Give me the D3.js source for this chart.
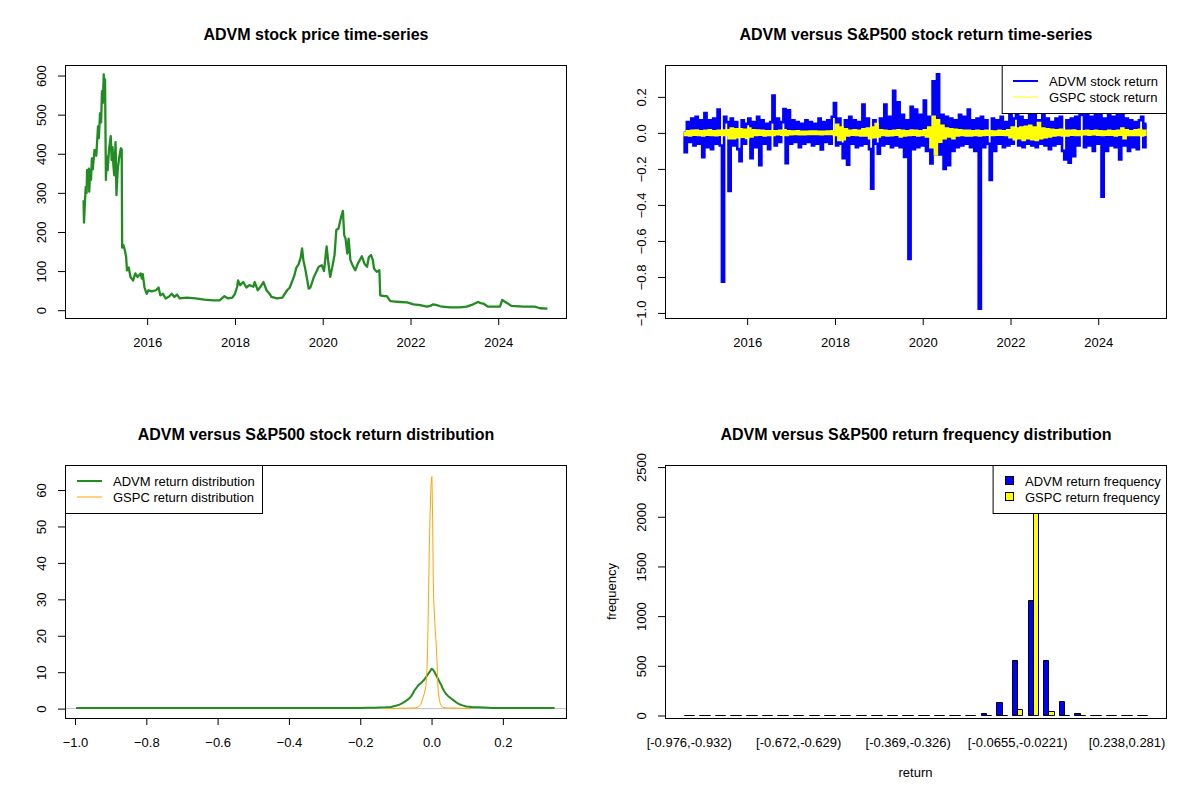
<!DOCTYPE html>
<html>
<head>
<meta charset="utf-8">
<script src="https://cdn.jsdelivr.net/npm/d3@7"></script>
<style>
body { margin: 0; background: #fff; }
svg text { font-family: "Liberation Sans", Arial, sans-serif; fill: #000; }
</style>
</head>
<body>
<svg id="chart" width="1200" height="800"></svg>
<script>
// ADVM closing price (decimal year, price)
var priceYears = [2014.55, 2014.56, 2014.58, 2014.60, 2014.62, 2014.63, 2014.65, 2014.67, 2014.68, 2014.70,
    2014.72, 2014.74, 2014.76, 2014.80, 2014.84, 2014.88, 2014.90, 2014.925, 2014.95, 2014.97,
    2014.99, 2015.01, 2015.03, 2015.04, 2015.06, 2015.08, 2015.10, 2015.13, 2015.17, 2015.19,
    2015.21, 2015.23, 2015.25, 2015.28, 2015.30, 2015.33, 2015.36, 2015.40, 2015.42, 2015.43,
    2015.46, 2015.49, 2015.52, 2015.54, 2015.58, 2015.62, 2015.68, 2015.73, 2015.78, 2015.85,
    2015.88, 2015.90, 2015.94, 2015.99, 2016.03, 2016.10, 2016.20, 2016.26, 2016.30, 2016.36,
    2016.42, 2016.50, 2016.56, 2016.62, 2016.68, 2016.74, 2016.90, 2017.10, 2017.30, 2017.50,
    2017.65, 2017.72, 2017.76, 2017.84, 2017.94, 2018.00, 2018.05, 2018.07, 2018.12, 2018.19,
    2018.26, 2018.33, 2018.42, 2018.45, 2018.52, 2018.57, 2018.65, 2018.72, 2018.80, 2018.83,
    2018.96, 2019.08, 2019.19, 2019.25, 2019.35, 2019.40, 2019.45, 2019.50, 2019.53, 2019.56,
    2019.60, 2019.65, 2019.68, 2019.72, 2019.80, 2019.91, 2019.98, 2020.03, 2020.09, 2020.13,
    2020.17, 2020.22, 2020.27, 2020.31, 2020.36, 2020.42, 2020.46, 2020.49, 2020.52, 2020.56,
    2020.59, 2020.63, 2020.68, 2020.74, 2020.80, 2020.89, 2020.95, 2021.01, 2021.05, 2021.10,
    2021.14, 2021.17, 2021.23, 2021.29, 2021.31, 2021.40, 2021.46, 2021.54, 2021.65, 2021.77,
    2021.92, 2022.07, 2022.22, 2022.37, 2022.45, 2022.52, 2022.60, 2022.68, 2022.90, 2023.13,
    2023.28, 2023.43, 2023.54, 2023.60, 2023.66, 2023.77, 2024.04, 2024.09, 2024.19, 2024.30,
    2024.57, 2024.83, 2024.95, 2025.12];
var priceValues = [281, 224, 274, 315, 300, 358, 320, 362, 303, 358,
    333, 388, 360, 410, 395, 470, 440, 503, 480, 560,
    530, 603, 560, 590, 333, 393, 358, 410, 445, 384,
    417, 370, 345, 430, 294, 360, 388, 414, 411, 160,
    166, 154, 137, 102, 109, 85, 76, 94, 85, 94,
    81, 92, 58, 42, 51, 48, 51, 58, 38, 42,
    30, 35, 42, 34, 40, 30, 32, 30, 27, 25,
    25, 32, 36, 30, 32, 42, 60, 76, 64, 72,
    58, 64, 60, 72, 51, 58, 72, 51, 40, 34,
    30, 32, 51, 58, 87, 109, 117, 135, 158, 128,
    107, 76, 55, 58, 85, 111, 115, 100, 163, 120,
    85, 111, 141, 205, 209, 239, 254, 192, 183, 145,
    183, 128, 115, 102, 119, 138, 119, 111, 136, 141,
    128, 106, 98, 102, 38, 36, 36, 23, 22, 21,
    20, 15, 13, 9, 11, 15, 13, 10, 7, 7,
    9, 15, 21, 18, 17, 9, 9, 26, 19, 11,
    9, 9, 5, 4];

// daily returns, sampled every 0.05 year from mid 2014
var returnStart = 2014.55;
var returnStep = 0.05;
var advmReturns = [0.0, -0.107, 0.06, -0.05, 0.08, -0.07, 0.09, -0.06, 0.07, -0.135,
    0.11, -0.08, 0.07, -0.09, 0.08, -0.06, 0.13, -0.07, -0.826, 0.09,
    0.06, -0.323, 0.08, -0.07, 0.06, -0.09, -0.157, 0.07, -0.06, 0.05,
    0.08, -0.14, 0.06, -0.08, 0.09, -0.18, 0.07, -0.06, 0.05, -0.09,
    0.06, 0.207, -0.07, 0.08, -0.05, 0.06, 0.133, -0.168, 0.126, -0.06,
    0.07, -0.05, 0.06, -0.08, 0.05, -0.06, 0.07, -0.05, 0.06, -0.07,
    0.05, -0.06, 0.08, -0.092, 0.06, -0.05, 0.07, -0.06, 0.09, 0.166,
    -0.07, 0.08, -0.06, -0.14, 0.07, -0.177, 0.09, -0.06, 0.07, -0.08,
    0.06, -0.07, 0.157, -0.06, 0.08, -0.09, -0.31, 0.07, -0.06, -0.115,
    0.08, -0.07, 0.157, -0.06, 0.09, -0.08, 0.234, -0.07, 0.17, -0.08,
    0.1, -0.133, 0.07, -0.70, 0.145, -0.09, 0.129, -0.08, 0.1, -0.07,
    0.18, -0.1, 0.09, -0.17, 0.286, -0.12, 0.325, -0.12, 0.1, -0.2,
    0.09, -0.18, 0.08, -0.1, 0.07, -0.08, 0.1, -0.07, 0.09, -0.06,
    0.129, -0.08, 0.07, -0.1, 0.08, -0.976, 0.09, -0.08, 0.07, -0.06,
    -0.262, 0.08, -0.1, 0.07, -0.06, 0.09, -0.08, 0.06, -0.07, 0.1,
    -0.06, 0.08, 0.133, -0.07, 0.09, -0.08, 0.07, -0.06, 0.1, -0.07,
    0.14, -0.08, 0.07, -0.06, 0.12, -0.07, 0.08, -0.09, 0.06, -0.07,
    0.08, -0.06, 0.09, -0.1, -0.147, 0.07, -0.166, 0.08, -0.13, 0.09,
    -0.07, 0.1, 0.129, -0.08, 0.11, -0.07, 0.09, -0.1, 0.12, -0.06,
    0.11, -0.354, 0.08, -0.1, 0.1, -0.07, 0.09, -0.08, 0.1, -0.147,
    0.12, -0.07, 0.08, -0.1, 0.07, -0.08, 0.06, -0.09, 0.07, 0.09,
    -0.08, 0.05];
var gspcReturns = [0.0, -0.012, 0.01, -0.015, 0.012, -0.01, 0.014, -0.012, 0.01, -0.015,
    0.012, -0.01, 0.015, -0.012, 0.01, -0.014, 0.012, -0.01, 0.013, -0.012,
    0.015, -0.03, 0.025, -0.03, 0.02, -0.025, 0.02, -0.022, 0.018, -0.028,
    0.025, -0.02, 0.015, -0.012, 0.014, -0.01, 0.012, -0.015, 0.01, -0.012,
    0.01, -0.012, 0.01, -0.008, 0.012, -0.01, 0.015, -0.012, 0.01, -0.008,
    0.008, -0.006, 0.01, -0.008, 0.006, -0.008, 0.007, -0.006, 0.008, -0.007,
    0.008, -0.006, 0.007, -0.008, 0.006, -0.007, 0.008, -0.006, 0.01, -0.012,
    0.045, -0.04, 0.03, -0.035, 0.02, -0.015, 0.012, -0.01, 0.015, -0.012,
    0.012, -0.015, 0.02, -0.015, 0.025, -0.03, 0.03, -0.025, 0.05, -0.02,
    0.015, -0.012, 0.012, -0.015, 0.01, -0.014, 0.012, -0.01, 0.015, -0.02,
    0.012, -0.015, 0.01, -0.012, 0.014, -0.01, 0.012, -0.015, 0.01, -0.012,
    0.015, -0.02, 0.03, -0.08, 0.09, -0.12, 0.07, -0.05, 0.04, -0.03,
    0.025, -0.02, 0.02, -0.03, 0.018, -0.015, 0.015, -0.012, 0.012, -0.015,
    0.012, -0.015, 0.01, -0.012, 0.012, -0.015, 0.01, -0.012, 0.012, -0.01,
    0.01, -0.012, 0.008, -0.01, 0.012, -0.01, 0.01, -0.012, 0.015, -0.025,
    0.03, -0.035, 0.025, -0.03, 0.03, -0.04, 0.035, -0.03, 0.04, -0.035,
    0.03, -0.04, 0.055, -0.03, 0.025, -0.025, 0.02, -0.02, 0.018, -0.015,
    0.015, -0.012, 0.018, -0.015, 0.012, -0.015, 0.012, -0.01, 0.014, -0.012,
    0.01, -0.012, 0.01, -0.008, 0.012, -0.01, 0.01, -0.008, 0.012, -0.01,
    0.01, -0.012, 0.008, -0.01, 0.012, -0.01, 0.01, -0.015, 0.012, -0.01,
    0.025, -0.03, 0.015, -0.012, 0.01, -0.012, 0.015, -0.012, 0.018, -0.015,
    0.012, -0.01];

// kernel density estimates [return, density]
var advmDensity = [[-0.997, 0.15], [-0.6, 0.15], [-0.3, 0.15], [-0.2, 0.18], [-0.18, 0.25], [-0.16, 0.25],
    [-0.147, 0.3], [-0.13, 0.35], [-0.114, 0.45], [-0.1, 0.8], [-0.09, 1.1], [-0.082, 1.5], [-0.075, 1.9],
    [-0.068, 2.4], [-0.063, 2.8], [-0.058, 3.3], [-0.053, 4.1], [-0.048, 5.0], [-0.043, 5.6], [-0.039, 6.2],
    [-0.034, 6.7], [-0.029, 7.1], [-0.024, 7.6], [-0.02, 8.0], [-0.015, 8.7], [-0.011, 9.3], [-0.006, 10.0],
    [-0.002, 10.6], [0.0, 10.9], [0.003, 10.8], [0.0075, 10.2], [0.012, 9.3], [0.017, 8.4], [0.022, 7.4],
    [0.027, 6.5], [0.031, 5.6], [0.036, 4.7], [0.041, 4.0], [0.046, 3.5], [0.053, 2.9], [0.06, 2.4],
    [0.068, 1.8], [0.078, 1.2], [0.087, 0.9], [0.097, 0.6], [0.106, 0.5], [0.115, 0.4], [0.13, 0.35],
    [0.148, 0.3], [0.17, 0.2], [0.2, 0.15], [0.345, 0.15]];
var gspcDensity = [[-0.13, 0.0], [-0.12, 0.02], [-0.1, 0.05], [-0.09, 0.1], [-0.08, 0.15], [-0.07, 0.1],
    [-0.06, 0.15], [-0.05, 0.2], [-0.045, 0.25], [-0.04, 0.35], [-0.035, 0.6], [-0.03, 1.2], [-0.026, 2.4],
    [-0.02, 4.2], [-0.016, 6.1], [-0.013, 10.5], [-0.011, 16.7], [-0.0093, 26], [-0.0065, 43], [-0.004, 54],
    [-0.002, 60], [0.0, 63.4], [0.001, 63.7], [0.002, 58], [0.003, 52], [0.0047, 36.5], [0.006, 30],
    [0.0075, 26.8], [0.01, 22], [0.0122, 19], [0.015, 13.5], [0.017, 8], [0.019, 4.3], [0.022, 2.5],
    [0.024, 1.5], [0.028, 0.7], [0.031, 0.4], [0.04, 0.2], [0.05, 0.15], [0.06, 0.2], [0.07, 0.15],
    [0.08, 0.12], [0.09, 0.08], [0.1, 0.02], [0.11, 0.0]];
var densityYMax = 64.3;

// return frequencies in 30 equal bins
var advmCounts = [1, 0, 0, 1, 0, 0, 1, 0, 0, 0, 0, 0, 0, 0, 1, 2, 1, 4, 8, 30,
    140, 560, 1160, 560, 150, 30, 10, 8, 1, 1];
var gspcCounts = [0, 0, 0, 0, 0, 0, 0, 0, 0, 0, 0, 0, 0, 0, 0, 0, 0, 0, 1, 3,
    4, 70, 2521, 50, 8, 0, 0, 0, 0, 0];
var binLabelIndex = [0, 7, 14, 21, 28];
var binLabels = ['[-0.976,-0.932)', '[-0.672,-0.629)', '[-0.369,-0.326)', '[-0.0655,-0.0221)', '[0.238,0.281)'];

// tick labels
var yearTicks = [2016, 2018, 2020, 2022, 2024];
var priceTicks = [0, 100, 200, 300, 400, 500, 600];
var returnTicks = [-1.0, -0.8, -0.6, -0.4, -0.2, 0.0, 0.2];
var densityTicks = [0, 10, 20, 30, 40, 50, 60];
var freqTicks = [0, 500, 1000, 1500, 2000, 2500];

var box = {l: 65, r: 566, t: 65, b: 318};
var svg = d3.select('#chart');

// R pads the data range by 4% on each side
function rRange(ext) {
    var d = ext[1] - ext[0];
    return [ext[0] - 0.04 * d, ext[1] + 0.04 * d];
}
function yearToDate(y) {
    var yr = Math.floor(y);
    var a = Date.UTC(yr, 0, 1), b = Date.UTC(yr + 1, 0, 1);
    return new Date(a + (y - yr) * (b - a));
}
function panel(ox, oy) {
    return svg.append('g').attr('transform', 'translate(' + [ox, oy] + ')');
}
function drawBox(g) {
    g.append('rect')
        .attr('x', box.l + 0.5).attr('y', box.t + 0.5)
        .attr('width', box.r - box.l).attr('height', box.b - box.t)
        .attr('fill', 'none').attr('stroke', '#000');
}
function drawTitle(g, t) {
    g.append('text')
        .attr('x', (box.l + box.r) / 2 + 0.5).attr('y', 40)
        .attr('text-anchor', 'middle')
        .style('font-size', '16px').style('font-weight', 'bold')
        .text(t);
}
function bottomAxis(g, scale, values, fmt, size) {
    var ax = g.append('g')
        .attr('transform', 'translate(0,' + box.b + ')')
        .call(d3.axisBottom(scale).tickValues(values).tickFormat(fmt).tickSize(size).tickSizeOuter(0));
    ax.attr('font-family', null).attr('font-size', null);
    ax.select('.domain').remove();
    ax.selectAll('line').attr('stroke', '#000');
    ax.selectAll('text').attr('y', 29).attr('dy', null).style('font-size', '13px');
}
function leftAxis(g, scale, values, fmt) {
    var ax = g.append('g')
        .attr('transform', 'translate(' + box.l + ',0)')
        .call(d3.axisLeft(scale).tickValues(values).tickFormat(fmt).tickSize(7).tickSizeOuter(0));
    ax.attr('font-family', null).attr('font-size', null);
    ax.select('.domain').remove();
    ax.selectAll('line').attr('stroke', '#000');
    ax.selectAll('text')
        .attr('transform', 'rotate(-90)')
        .attr('x', 0).attr('y', -19).attr('dy', null)
        .attr('text-anchor', 'middle')
        .style('font-size', '13px');
}
function legendBox(g, x0, x1) {
    g.append('rect')
        .attr('x', x0 + 0.5).attr('y', box.t + 0.5)
        .attr('width', x1 - x0).attr('height', 48)
        .attr('fill', '#fff').attr('stroke', '#000');
}
function legendText(g, x, y, t) {
    g.append('text').attr('x', x).attr('y', y + 4.6).style('font-size', '13px').text(t);
}
var fmt1 = d3.format('.1f');

// ---------- top left: price ----------
var p1 = panel(0, 0);
var priceData = priceYears.map(function(y, i) { return {date: yearToDate(y), value: priceValues[i]}; });
var xTime = d3.scaleTime()
    .domain(rRange(d3.extent(priceData, function(d) { return +d.date; })))
    .range([box.l, box.r]);
var yPrice = d3.scaleLinear()
    .domain(rRange(d3.extent(priceValues)))
    .range([box.b, box.t]);
p1.append('path')
    .datum(priceData)
    .attr('fill', 'none').attr('stroke', '#228B22').attr('stroke-width', 2.3)
    .attr('stroke-linejoin', 'round')
    .attr('d', d3.line()
        .x(function(d) { return xTime(d.date); }).y(function(d) { return yPrice(d.value); }));
drawBox(p1);
bottomAxis(p1, xTime, yearTicks.map(function(y) { return yearToDate(y); }), d3.utcFormat('%Y'), 7);
leftAxis(p1, yPrice, priceTicks, d3.format('d'));
drawTitle(p1, 'ADVM stock price time-series');

// ---------- top right: returns ----------
var p2 = panel(600, 0);
var retDates = advmReturns.map(function(v, i) { return yearToDate(returnStart + i * returnStep); });
var xTime2 = xTime.copy();
var yRet = d3.scaleLinear()
    .domain(rRange(d3.extent(advmReturns)))
    .range([box.b, box.t]);
// daily data is too dense to show single days: a step curve with wide strokes fills the band
var retLine = d3.line()
    .curve(d3.curveStep)
    .x(function(d, i) { return xTime2(retDates[i]); })
    .y(function(d) { return yRet(d); });
p2.append('path').datum(advmReturns)
    .attr('fill', 'none').attr('stroke', '#0000FF').attr('stroke-width', 2.6)
    .attr('d', retLine);
p2.append('path').datum(gspcReturns)
    .attr('fill', 'none').attr('stroke', '#FFFF00').attr('stroke-width', 2.4)
    .attr('d', retLine);
drawBox(p2);
bottomAxis(p2, xTime2, yearTicks.map(function(y) { return yearToDate(y); }), d3.utcFormat('%Y'), 7);
leftAxis(p2, yRet, returnTicks, fmt1);
drawTitle(p2, 'ADVM versus S&P500 stock return time-series');
legendBox(p2, 401.7, box.r);
p2.append('line').attr('x1', 413).attr('x2', 438).attr('y1', 81).attr('y2', 81)
    .attr('stroke', '#0000FF').attr('stroke-width', 2);
p2.append('line').attr('x1', 413).attr('x2', 438).attr('y1', 97).attr('y2', 97)
    .attr('stroke', '#FFFF00').attr('stroke-width', 1);
legendText(p2, 449, 81, 'ADVM stock return');
legendText(p2, 449, 97, 'GSPC stock return');

// ---------- bottom left: density ----------
var p3 = panel(0, 400);
var xDen = d3.scaleLinear()
    .domain(rRange(d3.extent(advmReturns)))
    .range([box.l, box.r]);
var yDen = d3.scaleLinear()
    .domain(rRange([0, densityYMax]))
    .range([box.b, box.t]);
var denLine = d3.line()
    .x(function(d) { return xDen(d[0]); })
    .y(function(d) { return yDen(d[1]); });
p3.append('line')
    .attr('x1', box.l).attr('x2', box.r)
    .attr('y1', yDen(0)).attr('y2', yDen(0))
    .attr('stroke', '#BEBEBE').attr('stroke-width', 1);
p3.append('path').datum(advmDensity)
    .attr('fill', 'none').attr('stroke', '#228B22').attr('stroke-width', 2)
    .attr('stroke-linejoin', 'round')
    .attr('d', denLine);
p3.append('path').datum(gspcDensity)
    .attr('fill', 'none').attr('stroke', '#FFA500').attr('stroke-width', 1)
    .attr('d', denLine);
drawBox(p3);
bottomAxis(p3, xDen, returnTicks, fmt1, 7);
leftAxis(p3, yDen, densityTicks, d3.format('d'));
drawTitle(p3, 'ADVM versus S&P500 stock return distribution');
legendBox(p3, box.l, 262);
p3.append('line').attr('x1', 77).attr('x2', 102).attr('y1', 81).attr('y2', 81)
    .attr('stroke', '#228B22').attr('stroke-width', 2);
p3.append('line').attr('x1', 77).attr('x2', 102).attr('y1', 97).attr('y2', 97)
    .attr('stroke', '#FFA500').attr('stroke-width', 1);
legendText(p3, 113, 81, 'ADVM return distribution');
legendText(p3, 113, 97, 'GSPC return distribution');

// ---------- bottom right: frequency barplot ----------
var p4 = panel(600, 400);
var nBins = advmCounts.length;
// barplot(beside=TRUE): each group = 1 unit gap + 2 bars
var xBar = d3.scaleLinear()
    .domain(rRange([1, nBins * 3]))
    .range([box.l, box.r]);
var maxCount = d3.max(advmCounts.concat(gspcCounts));
var yBar = d3.scaleLinear()
    .domain([-0.01 * maxCount, maxCount])
    .range([box.b, box.t]);
var barData = [];
advmCounts.forEach(function(c, k) {
    barData.push({k: k, s: 0, count: c});
    barData.push({k: k, s: 1, count: gspcCounts[k]});
});
var crisp = function(v) { return Math.round(v) + 0.5; };
p4.selectAll('.bar')
    .data(barData)
    .enter().append('path')
    .attr('class', 'bar')
    .attr('fill', function(d) { return d.s === 0 ? '#0000FF' : '#FFFF00'; })
    .attr('stroke', '#000').attr('stroke-width', 1)
    .attr('d', function(d) {
        var x0 = crisp(xBar(3 * d.k + 1 + d.s)), x1 = crisp(xBar(3 * d.k + 2 + d.s));
        var y0 = crisp(yBar(0)), y1 = crisp(yBar(d.count));
        return 'M' + x0 + ',' + y0 + 'H' + x1 + 'V' + y1 + 'H' + x0 + 'Z';
    });
drawBox(p4);
bottomAxis(p4, xBar, binLabelIndex.map(function(k) { return 3 * k + 2; }),
    function(v, i) { return binLabels[i]; }, 0);
leftAxis(p4, yBar, freqTicks, d3.format('d'));
drawTitle(p4, 'ADVM versus S&P500 return frequency distribution');
p4.append('text')
    .attr('transform', 'translate(16,' + ((box.t + box.b) / 2) + ') rotate(-90)')
    .attr('text-anchor', 'middle')
    .style('font-size', '13px')
    .text('frequency');
p4.append('text')
    .attr('x', (box.l + box.r) / 2).attr('y', 377)
    .attr('text-anchor', 'middle')
    .style('font-size', '13px')
    .text('return');
legendBox(p4, 392.6, box.r);
[['#0000FF', 'ADVM return frequency'], ['#FFFF00', 'GSPC return frequency']].forEach(function(e, i) {
    var cy = 81 + 16 * i;
    p4.append('rect')
        .attr('x', 405.5).attr('y', cy - 4.5).attr('width', 8).attr('height', 8)
        .attr('fill', e[0]).attr('stroke', '#000');
    legendText(p4, 425, cy, e[1]);
});
</script>
</body>
</html>
